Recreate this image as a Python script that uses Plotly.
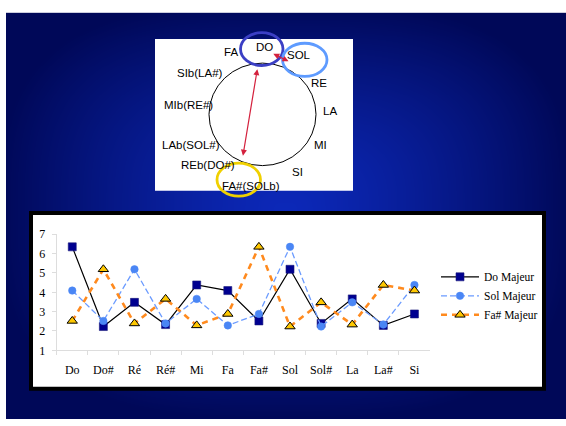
import base64
import struct
import zlib

import numpy as np
import plotly.graph_objects as go

# ---- data -----------------------------------------------------------------
notes = ["Do", "Do#", "Ré", "Ré#", "Mi", "Fa", "Fa#", "Sol", "Sol#", "La", "La#", "Si"]
do_majeur = [6.35, 2.23, 3.48, 2.33, 4.38, 4.09, 2.52, 5.19, 2.39, 3.66, 2.29, 2.88]
sol_majeur = [4.09, 2.52, 5.19, 2.39, 3.66, 2.29, 2.88, 6.35, 2.23, 3.48, 2.33, 4.38]
fas_majeur = [2.52, 5.19, 2.39, 3.66, 2.29, 2.88, 6.35, 2.23, 3.48, 2.33, 4.38, 4.09]
y_ticks = [1, 2, 3, 4, 5, 6, 7]

# circle of fifths labels
fifths_labels = ["DO", "SOL", "RE", "LA", "MI", "SI", "FA#(SOLb)",
                 "REb(DO#)", "LAb(SOL#)", "MIb(RE#)", "SIb(LA#)", "FA"]

# ---- page geometry (pixels) ----------------------------------------------
W, H = 566, 426


def fx(px):
    return px / W


def fy(py):
    return 1 - py / H


# label anchor points around the circle (pixel coordinates)
label_pos = [(264.5, 41.7), (299, 50), (318.5, 79), (330, 107.5), (320.5, 142.5),
             (297, 171), (251.4, 185), (207.8, 163), (190.5, 142.7), (188.7, 101.5),
             (200.2, 67.8), (231, 46.8)]


# ---- slide background: centred blue gradient ------------------------------
def png_uri(rgb):
    h, w, _ = rgb.shape
    raw = b"".join(b"\x00" + rgb[r].tobytes() for r in range(h))

    def chunk(tag, data):
        c = struct.pack(">I", len(data)) + tag + data
        return c + struct.pack(">I", zlib.crc32(tag + data) & 0xFFFFFFFF)

    png = (b"\x89PNG\r\n\x1a\n"
           + chunk(b"IHDR", struct.pack(">IIBBBBB", w, h, 8, 2, 0, 0, 0))
           + chunk(b"IDAT", zlib.compress(raw, 9))
           + chunk(b"IEND", b""))
    return "data:image/png;base64," + base64.b64encode(png).decode()


bw, bh = 560, 420
yy, xx = np.mgrid[0:bh, 0:bw].astype(float)
u = np.abs(xx - (285 - 6)) / 285.0
v = np.abs(yy - (210 - 6)) / 215.0
d = (u ** 3 + v ** 3) ** (1 / 3)
t = np.clip(d, 0, 1) ** 1.3
centre = np.array([12, 40, 184], float)
edge = np.array([0, 8, 88], float)
grad = (centre[None, None, :] * (1 - t[..., None]) + edge[None, None, :] * t[..., None])
bg_uri = png_uri(grad.round().astype(np.uint8))

# ---- figure ---------------------------------------------------------------
fig = go.Figure()

fig.add_trace(go.Scatter(
    x=notes, y=do_majeur, name="Do Majeur", mode="lines+markers",
    line=dict(color="black", width=1.2),
    marker=dict(symbol="square", size=8, color="#000090",
                line=dict(color="#1a1a7a", width=0.6)),
))
fig.add_trace(go.Scatter(
    x=notes, y=sol_majeur, name="Sol Majeur", mode="lines+markers",
    line=dict(color="#6B9BFF", width=1.3, dash="6px,3px"),
    marker=dict(symbol="circle", size=7.5, color="#4A86F5",
                line=dict(color="#4A86F5", width=0.5)),
))
fig.add_trace(go.Scatter(
    x=notes, y=fas_majeur, name="Fa# Majeur", mode="lines+markers",
    line=dict(color="#FF8A1E", width=2.6, dash="6px,5px"),
    marker=dict(symbol="triangle-up", size=9, color="#FFC800",
                line=dict(color="black", width=1)),
))

shapes = [
    # chart panel with black frame
    dict(type="rect", xref="paper", yref="paper", layer="below",
         x0=fx(31), x1=fx(544), y0=fy(213), y1=fy(394.8),
         fillcolor="white", line=dict(color="black", width=4)),
    # diagram panel
    dict(type="rect", xref="paper", yref="paper", layer="below",
         x0=fx(155), x1=fx(353), y0=fy(33), y1=fy(190),
         fillcolor="white", line=dict(width=0)),
    # circle of fifths
    dict(type="circle", xref="paper", yref="paper", layer="above",
         x0=fx(209), x1=fx(316), y0=fy(58), y1=fy(164),
         line=dict(color="black", width=1)),
    # key highlights
    dict(type="circle", xref="paper", yref="paper", layer="above",
         x0=fx(240.5), x1=fx(283), y0=fy(26.5), y1=fy(60.5),
         line=dict(color="#3B3FC4", width=2.8)),
    dict(type="circle", xref="paper", yref="paper", layer="above",
         x0=fx(282.5), x1=fx(327), y0=fy(37.5), y1=fy(71.8),
         line=dict(color="#5E9BFF", width=2.8)),
    dict(type="circle", xref="paper", yref="paper", layer="above",
         x0=fx(217), x1=fx(260.5), y0=fy(161.5), y1=fy(195.5),
         line=dict(color="#F0D000", width=2.8)),
]

annotations = []
for lab, (px, py) in zip(fifths_labels, label_pos):
    annotations.append(dict(
        text=lab, x=fx(px), y=fy(py), xref="paper", yref="paper",
        showarrow=False, xanchor="center", yanchor="middle",
        font=dict(family="Liberation Sans, Arial", size=11.5, color="black"),
    ))

# relation arrows (DO <-> SOL, DO <-> FA#)
for (x1, y1), (x2, y2) in [((257.3, 64.3), (242.7, 152.3)), ((273.3, 48.3), (290, 56.7))]:
    annotations.append(dict(
        text="", x=fx(x1), y=fy(y1), xref="paper", yref="paper",
        ax=x2 - x1, ay=y2 - y1, axref="pixel", ayref="pixel",
        showarrow=True, arrowhead=2, startarrowhead=2, arrowside="end+start",
        arrowsize=1, startarrowsize=1, arrowwidth=1.2, arrowcolor="#D4213D",
        standoff=0, startstandoff=0,
    ))

axis_grey = "#DDDDDD"
fig.update_layout(
    width=W, height=H,
    margin=dict(l=0, r=0, t=0, b=0),
    paper_bgcolor="white",
    plot_bgcolor="rgba(0,0,0,0)",
    images=[dict(source=bg_uri, xref="paper", yref="paper",
                 x=fx(6), y=fy(6), sizex=bw / W, sizey=bh / H,
                 sizing="stretch", layer="below", xanchor="left", yanchor="top")],
    shapes=shapes,
    annotations=annotations,
    xaxis=dict(
        domain=[fx(56.7), fx(430)], type="category", range=[-0.5, 11.5],
        showgrid=False, zeroline=False, showline=True, linecolor=axis_grey, linewidth=1,
        ticks="outside", tickson="boundaries", ticklen=4, tickcolor=axis_grey,
        ticklabelstandoff=8,
        tickfont=dict(family="Liberation Serif, Times New Roman", size=12, color="black"),
    ),
    yaxis=dict(
        domain=[fy(355), fy(235)], range=[1, 7], tickvals=y_ticks,
        showgrid=False, zeroline=False, showline=True, linecolor=axis_grey, linewidth=1,
        ticks="outside", ticklen=4, tickcolor=axis_grey, ticklabelstandoff=4,
        tickfont=dict(family="Liberation Serif, Times New Roman", size=12, color="black"),
    ),
    showlegend=True,
    legend=dict(
        x=fx(436), y=fy(264), xanchor="left", yanchor="top",
        bgcolor="rgba(0,0,0,0)", borderwidth=0, itemwidth=38,
        font=dict(family="Liberation Serif, Times New Roman", size=11.5, color="black"),
        tracegroupgap=0,
    ),
)

fig.write_html("out.html")
